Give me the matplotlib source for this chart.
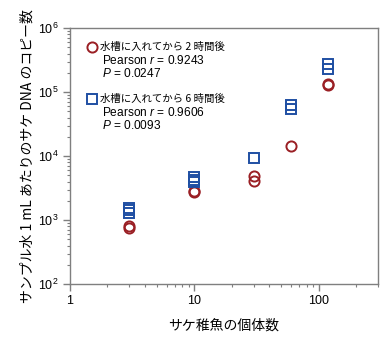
import matplotlib
matplotlib.use("Agg")
import matplotlib.pyplot as plt
from matplotlib.ticker import LogLocator, FixedLocator, FixedFormatter, NullFormatter

plt.rcParams['font.family'] = ['Liberation Sans', 'Noto Sans CJK JP', 'DejaVu Sans']
plt.rcParams['mathtext.fontset'] = 'custom'
plt.rcParams['mathtext.rm'] = 'Liberation Sans'
plt.rcParams['mathtext.it'] = 'Liberation Sans:italic'

# Fish counts and DNA copies per 1 mL of sample water
fish_2h = [3, 3, 10, 10, 30, 30, 60, 120, 120]
copies_2h = [820, 760, 2850, 2700, 4950, 4150, 14600, 135000, 131000]

fish_6h = [3, 3, 3, 10, 10, 10, 30, 60, 60, 120, 120]
copies_6h = [1550, 1420, 1300, 4700, 4300, 3950, 9400, 62000, 55000, 277000, 230000]

label_2h = "水槽に入れてから 2 時間後"
label_6h = "水槽に入れてから 6 時間後"
stats_2h = ["Pearson $\\it{r}$ = 0.9243", "$\\it{P}$ = 0.0247"]
stats_6h = ["Pearson $\\it{r}$ = 0.9606", "$\\it{P}$ = 0.0093"]

x_ticks = [1, 10, 100]
x_tick_labels = ["1", "10", "100"]
y_ticks = [1e2, 1e3, 1e4, 1e5, 1e6]
y_tick_labels = ["$10^{2}$", "$10^{3}$", "$10^{4}$", "$10^{5}$", "$10^{6}$"]

red = "#9a1f24"
blue = "#1f4fa3"
spine_gray = "#7f7f7f"

fig = plt.figure(figsize=(3.92, 3.39), dpi=100)
ax = fig.add_axes([0.1786, 0.162, 0.7854, 0.755])

ax.plot(fish_2h, copies_2h, linestyle="none", marker="o", markersize=7.3,
        markerfacecolor="none", markeredgecolor=red, markeredgewidth=1.4)
ax.plot(fish_6h, copies_6h, linestyle="none", marker="s", markersize=7.3,
        markerfacecolor="none", markeredgecolor=blue, markeredgewidth=1.4)

ax.set_xscale("log")
ax.set_yscale("log")
ax.set_xlim(1, 300)
ax.set_ylim(1e2, 1e6)

ax.xaxis.set_major_locator(FixedLocator(x_ticks))
ax.xaxis.set_major_formatter(FixedFormatter(x_tick_labels))
ax.xaxis.set_minor_locator(LogLocator(base=10, subs=range(2, 10)))
ax.xaxis.set_minor_formatter(NullFormatter())
ax.yaxis.set_major_locator(FixedLocator(y_ticks))
ax.yaxis.set_major_formatter(FixedFormatter(y_tick_labels))
ax.yaxis.set_minor_locator(LogLocator(base=10, subs=range(2, 10)))
ax.yaxis.set_minor_formatter(NullFormatter())

for s in ax.spines.values():
    s.set_color(spine_gray)
    s.set_linewidth(1.0)
ax.tick_params(which="major", direction="out", length=5, width=1.0,
               color=spine_gray, labelsize=9, pad=3)
ax.tick_params(which="minor", direction="out", length=2.5, width=0.8,
               color=spine_gray)
ax.tick_params(top=False, right=False)

ax.set_xlabel("サケ稚魚の個体数", fontsize=10, labelpad=8,
              family=['Noto Sans CJK JP', 'Liberation Sans'])
ax.set_ylabel("サンプル水 1 mL あたりのサケ DNA のコピー数", fontsize=10, labelpad=3,
              family=['Noto Sans CJK JP', 'Liberation Sans'])

# Legend block drawn inside the axes
def legend_entry(y_top, marker, color, title, lines):
    ax.plot([0.072], [y_top], transform=ax.transAxes, linestyle="none",
            marker=marker, markersize=7.3, markerfacecolor="none",
            markeredgecolor=color, markeredgewidth=1.4, clip_on=False)
    ax.text(0.098, y_top, title, transform=ax.transAxes, fontsize=7.5,
            va="center", ha="left", family=['Noto Sans CJK JP', 'Liberation Sans'])
    for i, ln in enumerate(lines):
        ax.text(0.104, y_top - 0.052 - 0.05 * i, ln, transform=ax.transAxes,
                fontsize=8.6, va="center", ha="left")

legend_entry(0.925, "o", red, label_2h, stats_2h)
legend_entry(0.722, "s", blue, label_6h, stats_6h)

fig.savefig("out.png", dpi=100)
